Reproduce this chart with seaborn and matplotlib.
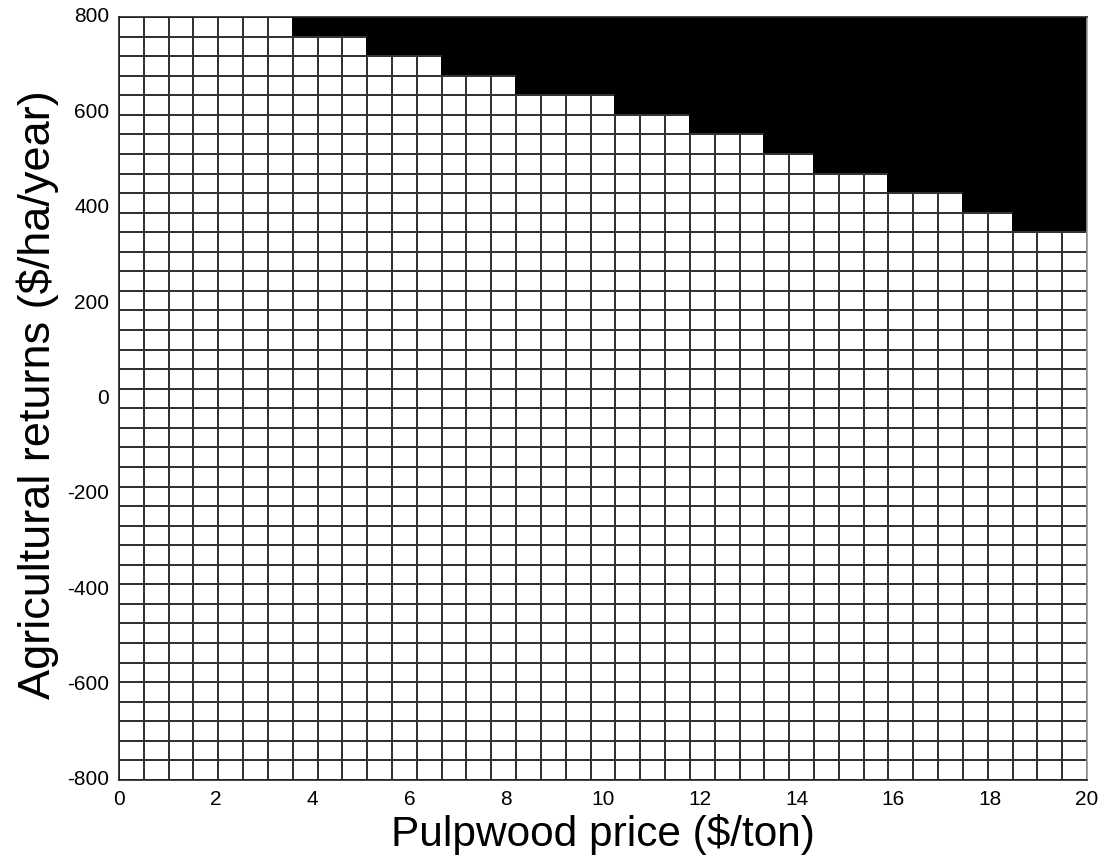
import numpy as np
import pandas as pd
import matplotlib
matplotlib.use("Agg")
import matplotlib.pyplot as plt
from matplotlib.colors import ListedColormap
import seaborn as sns

# Grid: 39 x 39 cells covering pulpwood price 0-20 and agricultural returns -800..800
n_cols = 39
n_rows = 39
x_min, x_max = 0, 20
y_min, y_max = -800, 800

# Number of black (top) cells in each pulpwood-price column
black_rows = [0, 0, 0, 0, 0, 0, 0,
              1, 1, 1,
              2, 2, 2,
              3, 3, 3,
              4, 4, 4, 4,
              5, 5, 5,
              6, 6, 6,
              7, 7,
              8, 8, 8,
              9, 9, 9,
              10, 10,
              11, 11, 11]

x_ticks = [0, 2, 4, 6, 8, 10, 12, 14, 16, 18, 20]
y_ticks = [800, 600, 400, 200, 0, -200, -400, -600, -800]
x_label = "Pulpwood price ($/ton)"
y_label = "Agricultural returns ($/ha/year)"

# matrix: rows from top (800) to bottom (-800)
mat = np.zeros((n_rows, n_cols))
for j, k in enumerate(black_rows):
    mat[:k, j] = 1
df = pd.DataFrame(mat)

sns.set_theme(style="white")
plt.rcParams['font.family'] = ['Liberation Sans', 'DejaVu Sans']

fig = plt.figure(figsize=(11.02, 8.59), dpi=100)
ax = fig.add_axes([119/1102, 1-780/859, (1087-119)/1102, (780-17)/859])

sns.heatmap(df, ax=ax, cmap=ListedColormap(["white", "black"]), vmin=0, vmax=1,
            cbar=False, linewidths=1.1, linecolor="#333333", square=False)

# black cells get black edges so the filled region shows no grid
mesh = ax.collections[0]
edge_cols = np.where(mat.ravel()[:, None] > 0.5,
                     np.array([[0, 0, 0, 1.0]]),
                     np.array([[0.2, 0.2, 0.2, 1.0]]))
mesh.set_edgecolors(edge_cols)

ax.set_xticks([(v - x_min) / (x_max - x_min) * n_cols for v in x_ticks])
ax.set_xticklabels([str(v) for v in x_ticks], rotation=0)
ax.set_yticks([(y_max - v) / (y_max - y_min) * n_rows for v in y_ticks])
ax.set_yticklabels([str(v) for v in y_ticks], rotation=0)
ax.tick_params(axis='x', length=0, labelsize=15, colors='black', pad=7)
ax.tick_params(axis='y', length=0, labelsize=15, colors='black', pad=7)
ax.set_xlabel(x_label, fontsize=30.5, labelpad=4, color='black')
ax.set_ylabel(y_label, fontsize=32.5, labelpad=5, color='black')
ax.yaxis.set_label_coords(-0.062, 0.505)

for s in ax.spines.values():
    s.set_visible(True)
    s.set_color("#222222")
    s.set_linewidth(1.2)
ax.spines['right'].set_color("#999999")

fig.savefig("out.png", dpi=100)
